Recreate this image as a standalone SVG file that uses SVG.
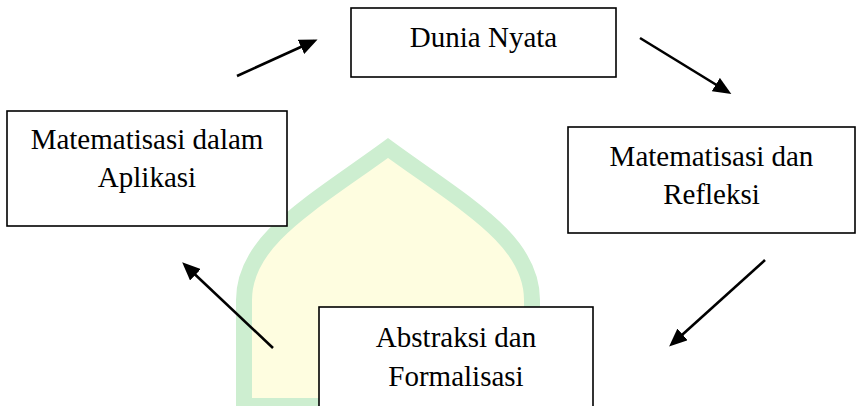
<svg xmlns="http://www.w3.org/2000/svg" width="860" height="406" viewBox="0 0 860 406">
<style>
.box{fill:#fff;stroke:#000;stroke-width:1.6}
.t{font-family:"Liberation Serif","Times New Roman",serif;font-size:29px;fill:#000;text-anchor:middle}
.arr{stroke:#000;stroke-width:2.6;fill:none;marker-end:url(#ah)}
</style>
<defs>
<marker id="ah" markerWidth="7" markerHeight="6" refX="5.5" refY="3" orient="auto" markerUnits="strokeWidth">
<path d="M0,0 L7,3 L0,6 Z" fill="#000"/>
</marker>
</defs>
<rect width="860" height="406" fill="#fff"/>
<g id="watermark">
<path d="M244 406 L244 300 C244 240, 310 205, 388 148 C466 205, 532 240, 532 300 L532 406 Z" fill="#fefde0" stroke="#cdeed0" stroke-width="16"/>
</g>
<g id="connectors">
<line class="arr" x1="237" y1="76" x2="314" y2="41"/>
<line class="arr" x1="640" y1="38" x2="728" y2="92"/>
<line class="arr" x1="765" y1="260" x2="672" y2="344"/>
<line class="arr" x1="273" y1="348" x2="185" y2="265"/>
</g>
<g id="dunia-nyata">
<rect class="box" x="351" y="8" width="265" height="69"/>
<text class="t" x="483.5" y="47">Dunia Nyata</text>
</g>
<g id="matematisasi-refleksi">
<rect class="box" x="568" y="127" width="287" height="106"/>
<text class="t" x="711.5" y="166">Matematisasi dan</text>
<text class="t" x="711.5" y="204">Refleksi</text>
</g>
<g id="abstraksi-formalisasi">
<rect class="box" x="319" y="307" width="274" height="110"/>
<text class="t" x="456" y="347">Abstraksi dan</text>
<text class="t" x="456" y="386">Formalisasi</text>
</g>
<g id="matematisasi-aplikasi">
<rect class="box" x="7" y="111" width="280" height="115"/>
<text class="t" x="147" y="149">Matematisasi dalam</text>
<text class="t" x="147" y="187">Aplikasi</text>
</g>
</svg>
